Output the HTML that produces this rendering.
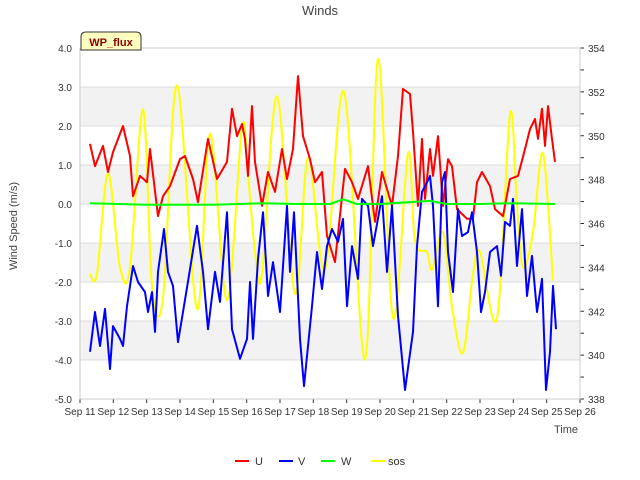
<!DOCTYPE html>
<html><head><meta charset="utf-8"><style>
html,body{margin:0;padding:0;background:#fff;}
svg{display:block;font-family:"Liberation Sans","DejaVu Sans",sans-serif;}
</style></head><body>
<svg id="chart" width="640" height="480" viewBox="0 0 640 480" xmlns="http://www.w3.org/2000/svg">
<text x="320" y="15" text-anchor="middle" font-size="13" fill="#444">Winds</text>
<text x="17" y="226" text-anchor="middle" font-size="11" fill="#444" transform="rotate(-90 17 226)">Wind Speed (m/s)</text>
<text x="566" y="433" text-anchor="middle" font-size="11" fill="#444">Time</text>
<g id="bands"></g>
<g id="series"></g>
<g id="axes"></g>
<g>
<path d="M81 50 L81 37 Q81 32 86 32 L136 32 Q141 32 141 37 L141 50 Z" fill="#ffffc0" stroke="#333" stroke-width="1"/>
<text x="111" y="46" text-anchor="middle" font-size="11" font-weight="bold" fill="#8b0000">WP_flux</text>
</g>
<g>
<g><line x1="235" y1="461" x2="249" y2="461" stroke="#ff0000" stroke-width="2"/><text x="255" y="465" font-size="11" fill="#333">U</text></g>
<g><line x1="279" y1="461" x2="293" y2="461" stroke="#0000ff" stroke-width="2"/><text x="298" y="465" font-size="11" fill="#333">V</text></g>
<g><line x1="321" y1="461" x2="335" y2="461" stroke="#00ff00" stroke-width="2"/><text x="341" y="465" font-size="11" fill="#333">W</text></g>
<g><line x1="371" y1="461" x2="385" y2="461" stroke="#ffff00" stroke-width="2"/><text x="388" y="465" font-size="11" fill="#333">sos</text></g>
</g>
</svg>
<script>
const xTickLabels=["Sep 11","Sep 12","Sep 13","Sep 14","Sep 15","Sep 16","Sep 17","Sep 18","Sep 19","Sep 20","Sep 21","Sep 22","Sep 23","Sep 24","Sep 25","Sep 26"];
const xTickDays=[11,12,13,14,15,16,17,18,19,20,21,22,23,24,25,26];
const leftTicks=[4,3,2,1,0,-1,-2,-3,-4,-5];
const rightTicks=[354,352,350,348,346,344,342,340,338];
const uDays=[11.30,11.45,11.69,11.84,11.99,12.29,12.50,12.59,12.80,13.01,13.10,13.34,13.49,13.70,14.00,14.15,14.39,14.54,14.84,15.11,15.41,15.56,15.71,15.86,15.95,16.04,16.16,16.25,16.46,16.64,16.85,17.06,17.21,17.39,17.54,17.69,17.90,18.05,18.26,18.41,18.65,18.95,19.16,19.34,19.64,19.85,20.06,20.36,20.54,20.69,20.90,20.99,21.14,21.26,21.35,21.50,21.59,21.74,21.89,22.04,22.16,22.31,22.61,22.79,22.91,23.06,23.30,23.45,23.69,23.90,24.14,24.35,24.50,24.65,24.74,24.86,24.95,25.04,25.16,25.25];
const uValues=[1.54,0.97,1.49,0.82,1.33,2.0,1.23,0.2,0.72,0.56,1.41,-0.31,0.2,0.46,1.15,1.23,0.64,0.05,1.67,0.64,1.08,2.44,1.74,2.05,1.67,0.72,2.51,1.08,-0.05,0.82,0.31,1.41,0.64,1.41,3.28,1.74,1.15,0.56,0.82,-0.82,-1.49,0.9,0.56,0.13,0.97,-0.46,0.82,-0.05,1.23,2.95,2.82,1.85,-0.05,1.67,0.13,1.41,0.72,1.74,-0.05,1.15,0.97,-0.13,-0.38,-0.38,0.56,0.82,0.46,-0.13,-0.31,0.64,0.72,1.41,1.92,2.18,1.67,2.44,1.49,2.51,1.67,1.08];
const vDays=[11.30,11.45,11.60,11.75,11.90,11.99,12.20,12.29,12.41,12.59,12.74,12.95,13.04,13.16,13.25,13.34,13.52,13.64,13.79,13.94,14.09,14.30,14.51,14.69,14.84,15.05,15.20,15.41,15.56,15.80,16.01,16.10,16.19,16.34,16.49,16.64,16.79,17.00,17.21,17.30,17.42,17.60,17.72,17.96,18.11,18.26,18.41,18.56,18.74,18.89,19.01,19.16,19.34,19.46,19.64,19.79,20.06,20.21,20.36,20.54,20.75,20.99,21.11,21.26,21.41,21.50,21.59,21.74,21.86,21.95,22.04,22.19,22.34,22.46,22.64,22.76,22.91,23.03,23.15,23.30,23.51,23.63,23.75,23.90,23.99,24.11,24.26,24.41,24.56,24.71,24.86,24.98,25.10,25.19,25.28];
const vValues=[-3.79,-2.77,-3.64,-2.69,-4.23,-3.13,-3.46,-3.64,-2.62,-1.59,-2.0,-2.26,-2.77,-2.26,-3.28,-1.74,-0.64,-1.74,-2.1,-3.54,-2.77,-1.67,-0.56,-1.74,-3.21,-1.74,-2.51,-0.21,-3.21,-3.97,-3.46,-2.0,-3.46,-1.41,-0.21,-2.36,-1.49,-2.77,-0.05,-1.74,-0.21,-3.46,-4.67,-2.62,-1.23,-2.18,-1.08,-0.64,-0.97,-0.38,-2.62,-1.08,-1.92,0.13,-0.05,-1.08,0.2,-1.74,-0.05,-2.87,-4.77,-3.28,-1.08,0.31,0.56,0.72,-0.05,-2.62,0.56,0.82,-1.23,-2.26,-0.13,-0.82,-0.72,-0.21,-1.23,-2.77,-2.26,-1.23,-1.08,-1.84,-0.46,-0.56,0.13,-1.59,-0.13,-2.36,-1.33,-2.77,-1.92,-4.77,-3.79,-2.1,-3.21];
const wDays=[11.3,13,15,16.5,17.5,18.5,18.9,19.3,20,21.5,22,23,24,25.25];
const wValues=[0.02,-0.02,-0.02,0.02,0.0,0.0,0.12,0.0,0.0,0.08,0.0,0.0,0.02,0.0];
const sosDays=[11.30,11.51,11.84,12.20,12.50,12.89,13.16,13.49,13.91,14.51,14.90,15.41,15.86,16.04,16.25,16.46,16.91,17.45,17.84,18.35,18.92,19.55,19.94,20.39,20.84,21.05,21.41,21.56,21.89,22.16,22.49,22.79,23.00,23.51,23.90,24.11,24.29,24.59,24.89,25.19];
const sosValues=[343.7,343.7,348.3,344.0,344.0,351.2,343.2,342.6,352.3,342.1,350.1,342.5,350.4,348.2,344.7,343.7,351.8,342.8,349.0,343.9,352.0,339.8,353.5,341.7,349.2,345.2,344.7,343.9,345.6,342.2,340.1,343.7,344.7,341.7,351.0,346.8,344.0,345.6,349.2,343.4];

const NS="http://www.w3.org/2000/svg";
const PL=80,PR=580,PT=48,PB=399;
function xs(d){return PL+(d-11)/15*(PR-PL);}
function yl(v){return PT+(4-v)/9*(PB-PT);}
function yr(v){return PT+(354-v)/16*(PB-PT);}
function mk(tag,attrs,parent){const e=document.createElementNS(NS,tag);for(const k in attrs)e.setAttribute(k,attrs[k]);parent.appendChild(e);return e;}
const bands=document.getElementById('bands');
const axes=document.getElementById('axes');
const series=document.getElementById('series');
const bg=mk('rect',{x:PL,y:PT,width:PR-PL,height:PB-PT,fill:'#fff'},bands);


for(let v=3;v>-5;v-=2){
  const r=mk('rect',{x:PL,y:yl(v),width:PR-PL,height:yl(v-1)-yl(v),fill:'#f2f2f2'},bands);
  
  
}
leftTicks.forEach(v=>{
  const g=mk('line',{x1:PL,x2:PR,y1:yl(v),y2:yl(v),stroke:'#dcdcdc','stroke-width':1},bands);
  
  
  const t=mk('text',{x:PL-8,y:yl(v)+4,'text-anchor':'end','font-size':10,fill:'#333'},axes);
  t.textContent=v.toFixed(1);
  
  
});
for(let v=338;v<=354;v++){
  mk('line',{x1:PR,x2:PR+4,y1:yr(v),y2:yr(v),stroke:'#333','stroke-width':1},axes);
}
rightTicks.forEach(v=>{
  const t=mk('text',{x:PR+8,y:yr(v)+4,'font-size':10,fill:'#333'},axes);
  t.textContent=v;
  
  
});
xTickDays.forEach((d,i)=>{
  mk('line',{x1:xs(d),x2:xs(d),y1:PB,y2:PB+4,stroke:'#333','stroke-width':1},axes);
  const t=mk('text',{x:xs(d),y:PB+16,'text-anchor':'middle','font-size':10,fill:'#333'},axes);
  t.textContent=xTickLabels[i];
  
  
});
const fr=mk('rect',{x:PL,y:PT,width:PR-PL,height:PB-PT,fill:'none',stroke:'#ccc','stroke-width':1},axes);


function linePath(days,vals,yf){return days.map((d,i)=>(i?'L':'M')+xs(d).toFixed(1)+' '+yf(vals[i]).toFixed(1)).join(' ');}
function smoothPath(days,vals,yf){
  const p=days.map((d,i)=>[xs(d),yf(vals[i])]);
  let s='M'+p[0][0].toFixed(1)+' '+p[0][1].toFixed(1);
  for(let i=0;i<p.length-1;i++){
    const p0=p[Math.max(0,i-1)],p1=p[i],p2=p[i+1],p3=p[Math.min(p.length-1,i+2)];
    const c1=[p1[0]+(p2[0]-p0[0])/6,p1[1]+(p2[1]-p0[1])/6];
    const c2=[p2[0]-(p3[0]-p1[0])/6,p2[1]-(p3[1]-p1[1])/6];
    s+=' C'+c1.map(n=>n.toFixed(1)).join(' ')+' '+c2.map(n=>n.toFixed(1)).join(' ')+' '+p2[0].toFixed(1)+' '+p2[1].toFixed(1);
  }
  return s;
}
const sosLine=mk('path',{d:smoothPath(sosDays,sosValues,yr),fill:'none',stroke:'#ffff00','stroke-width':2},series);


const uLine=mk('path',{d:linePath(uDays,uValues,yl),fill:'none',stroke:'#ff0000','stroke-width':2,'stroke-linejoin':'round'},series);


const vLine=mk('path',{d:linePath(vDays,vValues,yl),fill:'none',stroke:'#0000ff','stroke-width':2,'stroke-linejoin':'round'},series);


const wLine=mk('path',{d:linePath(wDays,wValues,yl),fill:'none',stroke:'#00ff00','stroke-width':2},series);


</script>
</body></html>
